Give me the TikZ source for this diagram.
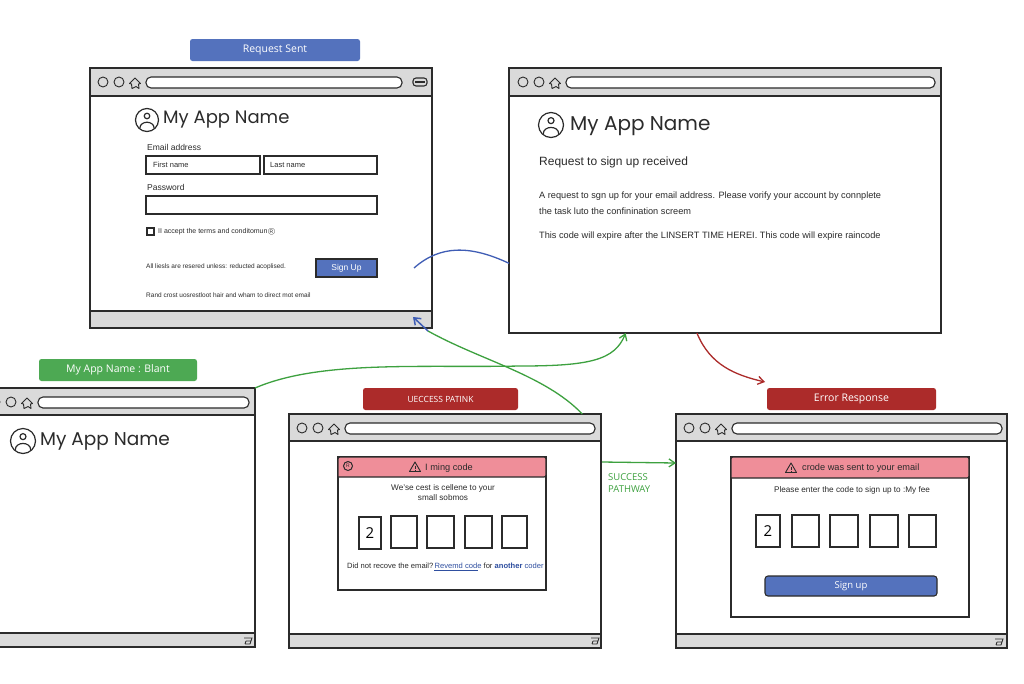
\documentclass[tikz,border=0pt]{standalone}
\usepackage{fontspec}
\setmainfont{Liberation Sans}
\newfontfamily\titlefont{Poppins}
\newfontfamily\labelfont{Open Sans}
\usetikzlibrary{arrows.meta,calc}
\definecolor{ink}{HTML}{2B2B2B}
\definecolor{chrome}{HTML}{DADADA}
\definecolor{bluefill}{HTML}{5472BD}
\definecolor{greenfill}{HTML}{4DA953}
\definecolor{redfill}{HTML}{AC2B2A}
\definecolor{pinkfill}{HTML}{EF8E99}
\definecolor{linkblue}{HTML}{2F4FA0}
\definecolor{flowgreen}{HTML}{3DA13F}
\definecolor{flowblue}{HTML}{3F5DB5}
\definecolor{flowred}{HTML}{AC2B2A}
\newcommand{\fs}[1]{\fontsize{#1}{#1}\selectfont}
\tikzset{
  winbox/.style={draw=ink,line width=1.2pt,fill=white,inner sep=0,outer sep=0},
  chromebar/.style={draw=ink,line width=1.1pt,fill=chrome},
  addr/.style={draw=ink,line width=1.1pt,fill=white,rounded corners=5pt},
  dot/.style={draw=ink,line width=0.9pt,fill=none},
  tag/.style={rounded corners=2.5pt,inner sep=0,text=white,font=\labelfont\fs{10.5}},
  field/.style={draw=ink,line width=1.1pt,fill=white},
  codebox/.style={draw=ink,line width=1.1pt,fill=white,inner sep=0,font=\labelfont\fs{15}},
  dialog/.style={draw=ink,line width=1.1pt,fill=white,inner sep=0},
  txt/.style={anchor=west,inner sep=0,text=ink},
  ctxt/.style={anchor=center,inner sep=0,text=ink,align=center},
  flow/.style={line width=1.3pt,-{Straight Barb[length=6pt,width=8pt,line width=1.3pt]}},
}
\newcommand{\homeicon}[2]{\draw[ink,line width=0.9pt,line join=round,shift={({#1},{#2})}]
  (-5.5,0.5)--(0,-5)--(5.5,0.5)--(3.5,1)--(4,5.5)--(1,3.5)--(-3,5.5)--(-3.5,1)--cycle;}
\newcommand{\usericon}[3]{\begin{scope}[shift={(#1,#2)},ink,line width=1.2pt]
  \draw (0,0) circle (#3);
  \draw (0,-0.35*#3) circle ({0.24*#3});
  \draw (-0.62*#3,0.72*#3) .. controls (-0.62*#3,0.02*#3) and (0.62*#3,0.02*#3) .. (0.62*#3,0.72*#3);
  \end{scope}}
\newcommand{\warnicon}[2]{\begin{scope}[shift={(#1,#2)},ink,line width=0.9pt]
  \draw[line join=round] (0,-5)--(5.5,4.5)--(-5.5,4.5)--cycle;
  \draw (0,-1.5)--(0,1.5); \draw (0,2.8)--(0,3.4);
  \end{scope}}
\newcommand{\footglyph}[2]{\draw[ink,line width=0.9pt,shift={(#1,#2)}]
  (-4,-3)--(4,-3)--(3,0)--(-2,0) (-3,3)--(2,3)--(3,0) (-3,3)--(-2,0);}
% id x1 y1 x2 y2 headerbottom footertop firstcircle addrend
\newcommand{\browser}[9]{%
  \node[winbox,minimum width={(#4)-(#2)},minimum height={(#5)-(#3)}] (#1) at ({((#2)+(#4))/2},{((#3)+(#5))/2}) {};
  \draw[chromebar] (#2,#3) rectangle (#4,#6);
  \draw[chromebar] (#2,#7) rectangle (#4,#5);
  \draw[dot] (#8,{(#3)+14}) circle (5);
  \draw[dot] ({(#8)+16},{(#3)+14}) circle (5);
  \homeicon{(#8)+32}{(#3)+15}
  \draw[addr] ({(#8)+43},{(#3)+9}) rectangle (#9,{(#3)+20});
}
\begin{document}
\begin{tikzpicture}[x=1pt,y=-1pt]
\useasboundingbox (0,0) rectangle (1024,683);
\fill[white] (0,0) rectangle (1024,683);

% windows
\browser{winA}{90}{68}{432}{328}{96}{311}{103}{402}
\browser{winB}{509}{68}{941}{333}{96}{333}{523}{935}
\browser{winC}{-2}{388}{255}{647}{415}{633}{-5}{249}
\browser{winD}{289}{414}{601}{648}{441}{634}{302}{595}
\browser{winE}{676}{414}{1007}{648}{441}{634}{689}{1002}
\draw[ink,line width=1.1pt,rounded corners=3pt] (413,78) rectangle (427,86);
\draw[ink,line width=1.1pt] (415,82)--(425,82);
\footglyph{248}{641}
\footglyph{595}{641}
\footglyph{999}{642}

% tags
\node[tag,fill=bluefill,minimum width=170pt,minimum height=22pt] (tagA) at (275,50) {Request  Sent};
\node[tag,fill=greenfill,minimum width=158pt,minimum height=22pt] (tagC) at (118,370) {My App Name :  Blant};
\node[tag,fill=redfill,minimum width=155pt,minimum height=22pt,font=\labelfont\fs{8.5}] (tagD) at (440.5,399) {UECCESS PATINK};
\node[tag,fill=redfill,minimum width=169pt,minimum height=22pt] (tagE) at (851.5,399) {Error  Response};

% window A content
\usericon{147}{120}{11.5}
\node[txt,font=\titlefont\fs{18}] (titleA) at (163,120) {My App Name};
\node[txt,font=\fs{8.5}] (emailA) at (147,147) {Email address};
\draw[field] (146,156) rectangle (260,174);
\draw[field] (264,156) rectangle (377,174);
\node[txt,font=\fs{7.5}] (firstA) at (153,165) {First name};
\node[txt,font=\fs{7.5}] (lastA) at (270,165) {Last name};
\node[txt,font=\fs{8.5}] (passA) at (147,187) {Password};
\draw[field] (146,196) rectangle (377,214);
\draw[ink,line width=1.1pt] (147,228) rectangle (154,235);
\node[txt,font=\fs{7}] (termsA) at (158,232) {II accept the terms and conditomun\textcircled{\fs{5}R}};
\node[txt,font=\fs{6.5}] (rightsA) at (146,267) {All liesls are resered unless: reducted acoplised.};
\node[draw=ink,line width=1.1pt,fill=bluefill,text=white,inner sep=0,minimum width=61pt,minimum height=18pt,font=\fs{8.5}] (signA) at (346.5,268) {Sign Up};
\node[txt,font=\fs{6.5}] (randA) at (146,295) {Rand crost uosrestloot hair and wham to direct mot email};

% window B content
\usericon{551}{125}{12.5}
\node[txt,font=\titlefont\fs{20}] (titleB) at (570,126) {My App Name};
\node[txt,font=\fs{12}] (headB) at (539,162) {Request to sign up received};
\node[txt,font=\fs{9.2}] (p1B) at (539,196) {A request to sgn up for your email address. Please vorify your account by connplete};
\node[txt,font=\fs{9.2}] (p2B) at (539,211) {the task luto the confinination screem};
\node[txt,font=\fs{9.2}] (p3B) at (539,236) {This code will expire after the LINSERT TIME HEREI. This code will expire raincode};

% window C content
\usericon{23}{441}{12.5}
\node[txt,font=\titlefont\fs{18.5}] (titleC) at (40,441) {My App Name};

% window D dialog
\node[dialog,minimum width=208pt,minimum height=133pt] (dlgD) at (442,523.5) {};
\draw[draw=ink,line width=1.1pt,fill=pinkfill] (338,477) -- (338,459) [rounded corners=2pt] -- (338,457) -- (546,457) -- (546,477) [sharp corners] -- cycle;
\draw[ink,line width=1pt] (348,466) circle (4.5);
\node[ctxt,font=\fs{5}] (gD) at (348,466) {R};
\warnicon{415}{467}
\node[txt,font=\fs{9.2}] (hdrD) at (425,468) {I ming code};
\node[ctxt,font=\fs{8.2}] (msgD) at (443,488) {We'se cest is cellene to your};
\node[ctxt,font=\fs{8.2}] (msgD2) at (443,498) {small sobmos};
\node[codebox,minimum width=22pt,minimum height=32pt] (d1) at (370,533) {2};
\node[codebox,minimum width=26pt,minimum height=32pt] (d2) at (404,532) {};
\node[codebox,minimum width=27pt,minimum height=32pt] (d3) at (440.5,532) {};
\node[codebox,minimum width=27pt,minimum height=32pt] (d4) at (478.5,532) {};
\node[codebox,minimum width=25pt,minimum height=32pt] (d5) at (514.5,532) {};
\node[txt,font=\fs{7.6}] (resD) at (347,566) {Did not recove the email?\,\textcolor{linkblue}{Revemd code} for \textcolor{linkblue}{\textbf{another} coder}};
\draw[linkblue,line width=0.5pt] (434,570)--(478,570);

% window E dialog
\node[dialog,minimum width=238pt,minimum height=160pt] (dlgE) at (850,537) {};
\draw[draw=ink,line width=1.1pt,fill=pinkfill] (731,478) -- (731,459) [rounded corners=2pt] -- (731,457) -- (969,457) -- (969,478) [sharp corners] -- cycle;
\warnicon{791}{468}
\node[txt,font=\fs{9.2}] (hdrE) at (802,468) {crode was sent to your email};
\node[ctxt,font=\fs{8.2}] (msgE) at (852,490) {Please enter the code to sign up to :My fee};
\node[codebox,minimum width=24pt,minimum height=32pt] (e1) at (768,531) {2};
\node[codebox,minimum width=27pt,minimum height=32pt] (e2) at (805.5,531) {};
\node[codebox,minimum width=28pt,minimum height=32pt] (e3) at (844,531) {};
\node[codebox,minimum width=28pt,minimum height=32pt] (e4) at (884,531) {};
\node[codebox,minimum width=27pt,minimum height=32pt] (e5) at (922.5,531) {};
\node[draw=ink,line width=1.1pt,fill=bluefill,text=white,rounded corners=3pt,inner sep=0,minimum width=172pt,minimum height=20pt,font=\labelfont\fs{9.5}] (signE) at (851,586) {Sign up};

% connectors
\coordinate (blueStart) at (414,268);
\coordinate (blueEnd) at ($(winB.north west)!0.737!(winB.south west)$);
\draw[flowblue,line width=1.3pt] (blueStart) .. controls (440,245) and (470,245) .. (blueEnd);

\coordinate (g1Start) at ($(winD.north west)!0.94!(winD.north east)$);
\coordinate (g1Mid) at (428,331);
\coordinate (g1End) at (413,317);
\draw[flowgreen,line width=1.3pt] (g1Start) .. controls (545,375) and (480,360) .. (g1Mid);
\draw[flowblue,line width=1.5pt,-{Straight Barb[length=6pt,width=9pt,line width=1.5pt]}] (g1Mid) -- (g1End);

\coordinate (g2End) at ($(winB.south west)!0.27!(winB.south east)$);
\draw[flow,flowgreen] (winC.north east) .. controls (320,360) and (420,368) .. (520,366) .. controls (590,366) and (615,360) .. (g2End);

\coordinate (g3Start) at (602,462);
\coordinate (g3End) at (676,463);
\draw[flow,flowgreen] (g3Start) -- (g3End);
\node[txt,text=flowgreen,font=\labelfont\fs{9.5},align=left] (succ) at (608,483) {SUCCESS\\[3pt]PATHWAY};

\coordinate (rStart) at ($(winB.south west)!0.435!(winB.south east)$);
\coordinate (rEnd) at (765,382);
\draw[flow,flowred] (rStart) .. controls (710,365) and (735,375) .. (rEnd);
\end{tikzpicture}
\end{document}
